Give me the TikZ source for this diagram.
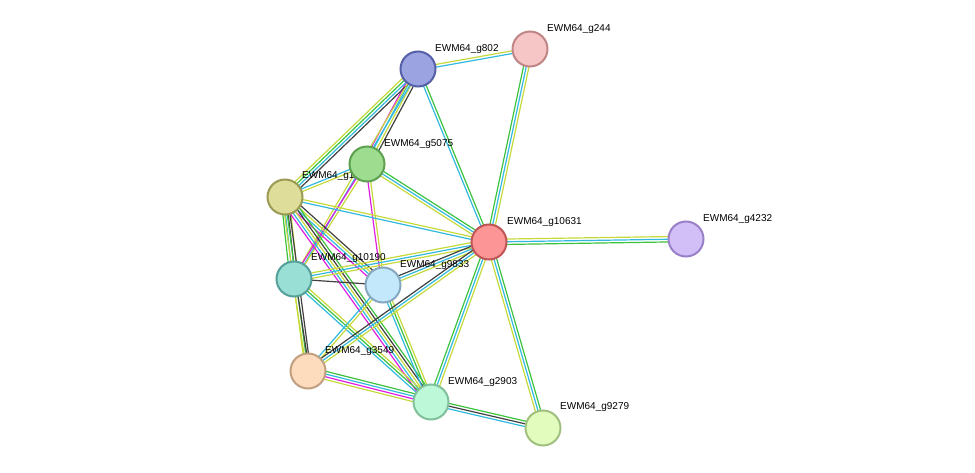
\documentclass[tikz,border=0pt]{standalone}
\usepackage{fontspec}
\setmainfont{Liberation Sans}
\usetikzlibrary{calc}
\definecolor{ey}{HTML}{C6D93A}
\definecolor{ec}{HTML}{31B9E0}
\definecolor{eg}{HTML}{3CC23C}
\definecolor{ek}{HTML}{404040}
\definecolor{em}{HTML}{E01EE0}
\newcommand\medge[4]{%
\foreach \c [count=\i] in {#4} {%
\pgfmathsetmacro\oo{(\i-(#3+1)/2)*2.7}%
\draw[\c, line width=1.2pt] ($(#1)!\oo pt!90:(#2)$) -- ($(#2)!\oo pt!-90:(#1)$);}}
\tikzset{prot/.style={circle, minimum size=35pt, inner sep=0pt, line width=2pt},
lab/.style={font=\fontsize{10pt}{11pt}\selectfont, anchor=south west, inner sep=1pt}}
\begin{document}
\begin{tikzpicture}[x=1pt,y=-1pt]
\useasboundingbox (0,0) rectangle (975,473);
\coordinate (a802) at (418,69);
\coordinate (a244) at (530,49);
\coordinate (a5075) at (367,164);
\coordinate (ay) at (285,197);
\coordinate (a10631) at (489,242);
\coordinate (a4232) at (686,239);
\coordinate (a10190) at (294,279);
\coordinate (a9833) at (383,285);
\coordinate (a3549) at (308,371);
\coordinate (a2903) at (431,402);
\coordinate (a9279) at (543,428);
\medge{a802}{a244}{2}{ec,ey}
\medge{a802}{a10631}{2}{ec,eg}
\medge{a244}{a10631}{3}{eg,ec,ey}
\medge{a10631}{a4232}{3}{eg,ec,ey}
\medge{a802}{a5075}{4}{em,ec,ey,ek}
\medge{a802}{ay}{4}{ey,eg,ec,ek}
\medge{a802}{a10190}{2}{ey,ec}
\medge{a5075}{ay}{2}{ec,ey}
\medge{a5075}{a10631}{3}{ey,ec,eg}
\medge{a5075}{a10190}{2}{em,ey}
\medge{a5075}{a9833}{2}{em,ey}
\medge{ay}{a10631}{2}{ec,ey}
\medge{ay}{a10190}{4}{eg,ec,ek,ey}
\medge{ay}{a3549}{3}{ey,eg,ek}
\medge{ay}{a9833}{4}{em,ec,ey,ek}
\medge{ay}{a2903}{5}{em,ec,ey,ek,eg}
\medge{a10190}{a10631}{3}{ey,ec,ey}
\medge{a10190}{a9833}{1}{ek}
\medge{a10190}{a3549}{2}{ey,ek}
\medge{a10190}{a2903}{3}{ec,eg,ey}
\medge{a9833}{a10631}{3}{ey,ec,ek}
\medge{a9833}{a3549}{2}{ec,ey}
\medge{a9833}{a2903}{3}{ec,eg,ey}
\medge{a3549}{a10631}{3}{ey,ec,ek}
\medge{a3549}{a2903}{4}{ey,em,ec,eg}
\medge{a2903}{a10631}{3}{ey,ec,eg}
\medge{a2903}{a9279}{3}{ec,ek,eg}
\medge{a10631}{a9279}{3}{ey,ec,eg}
\node[lab] (ly) at (301,182) {EWM64\_g1173};
\node[lab] (l802) at (434,55) {EWM64\_g802};
\node[prot, fill={rgb,255:red,155;green,163;blue,224}, draw={rgb,255:red,85;green,96;blue,168}] (n802) at (a802) {};
\node[prot, fill={rgb,255:red,246;green,198;blue,198}, draw={rgb,255:red,192;green,133;blue,133}] (n244) at (a244) {};
\node[prot, fill={rgb,255:red,158;green,221;blue,144}, draw={rgb,255:red,93;green,160;blue,80}] (n5075) at (a5075) {};
\node[prot, fill={rgb,255:red,222;green,221;blue,153}, draw={rgb,255:red,154;green,154;blue,85}] (ny) at (ay) {};
\node[prot, fill={rgb,255:red,252;green,149;blue,149}, draw={rgb,255:red,192;green,85;blue,85}] (n10631) at (a10631) {};
\node[prot, fill={rgb,255:red,210;green,191;blue,248}, draw={rgb,255:red,154;green,128;blue,200}] (n4232) at (a4232) {};
\node[prot, fill={rgb,255:red,154;green,223;blue,214}, draw={rgb,255:red,85;green,160;blue,154}] (n10190) at (a10190) {};
\node[prot, fill={rgb,255:red,195;green,231;blue,251}, draw={rgb,255:red,133;green,168;blue,192}] (n9833) at (a9833) {};
\node[prot, fill={rgb,255:red,253;green,220;blue,190}, draw={rgb,255:red,192;green,160;blue,128}] (n3549) at (a3549) {};
\node[prot, fill={rgb,255:red,189;green,248;blue,216}, draw={rgb,255:red,128;green,192;blue,154}] (n2903) at (a2903) {};
\node[prot, fill={rgb,255:red,226;green,252;blue,190}, draw={rgb,255:red,160;green,192;blue,128}] (n9279) at (a9279) {};
\node[lab] (l244) at (546,35) {EWM64\_g244};
\node[lab] (l5075) at (383,150) {EWM64\_g5075};
\node[lab] (l10631) at (506,228) {EWM64\_g10631};
\node[lab] (l4232) at (702,225) {EWM64\_g4232};
\node[lab] (l10190) at (310,264) {EWM64\_g10190};
\node[lab] (l9833) at (399,271) {EWM64\_g9833};
\node[lab] (l3549) at (324,357) {EWM64\_g3549};
\node[lab] (l2903) at (447,388) {EWM64\_g2903};
\node[lab] (l9279) at (559,413) {EWM64\_g9279};
\end{tikzpicture}
\end{document}
